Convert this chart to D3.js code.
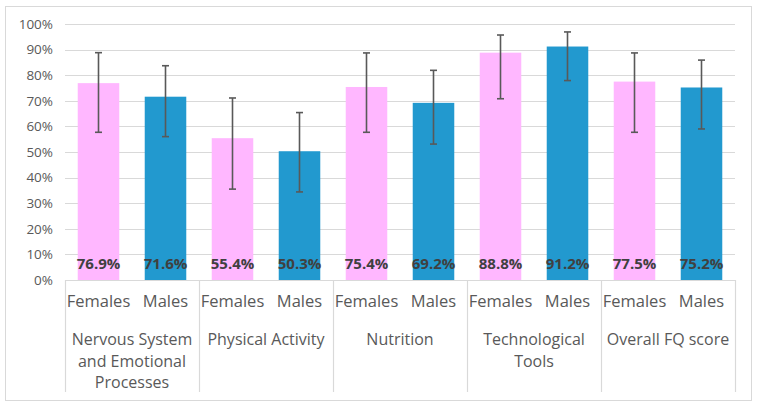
<!DOCTYPE html>
<html>
<head>
<meta charset="utf-8">
<script src="https://cdn.jsdelivr.net/npm/d3@7"></script>
<style>
  body { margin: 0; background: #fff; }
  svg text { font-family: "Open Sans", "Noto Sans", sans-serif; }
</style>
</head>
<body>
<svg id="chart" width="759" height="408"></svg>
<script>
// chart data
const groups = [
    ["Nervous System", "and Emotional", "Processes"],
    ["Physical Activity"],
    ["Nutrition"],
    ["Technological", "Tools"],
    ["Overall FQ score"]
];
const sexes = ["Females", "Males"];
const femaleValues = [76.9, 55.4, 75.4, 88.8, 77.5];
const maleValues = [71.6, 50.3, 69.2, 91.2, 75.2];
// error bar ends
const femaleHigh = [88.8, 71.1, 88.7, 95.7, 88.7];
const femaleLow = [57.7, 35.5, 57.7, 70.8, 57.7];
const maleHigh = [83.7, 65.4, 81.9, 96.9, 85.9];
const maleLow = [56.0, 34.4, 53.1, 77.9, 59.0];
const yTicks = [0, 10, 20, 30, 40, 50, 60, 70, 80, 90, 100];

const colors = { Females: "#FFB7FF", Males: "#2299CF" };

var svg = d3.select("#chart");

var margin = { left: 65, top: 24, right: 24, bottom: 128 };
var width = 759, height = 408;
var plotRight = width - margin.right;
var plotBottom = height - margin.bottom;

// outer frame
svg.append("rect")
    .attr("x", 5.5).attr("y", 6.5)
    .attr("width", 746).attr("height", 394)
    .attr("fill", "#fff")
    .attr("stroke", "#d9d9d9");

// build flat rows from the arrays
var rows = [];
groups.forEach(function(g, i) {
    rows.push({ group: i, sex: "Females", value: femaleValues[i], hi: femaleHigh[i], lo: femaleLow[i] });
    rows.push({ group: i, sex: "Males", value: maleValues[i], hi: maleHigh[i], lo: maleLow[i] });
});

var x0 = d3.scaleBand().domain(d3.range(groups.length)).range([margin.left, plotRight]);
var x1 = d3.scaleBand().domain(sexes).range([0, x0.bandwidth()]).paddingInner(0.38).paddingOuter(0.19);
var y = d3.scaleLinear().domain([0, 100]).range([plotBottom, margin.top]);

// gridlines
svg.append("g")
    .selectAll("line")
    .data(yTicks)
    .enter().append("line")
    .attr("x1", margin.left).attr("x2", plotRight)
    .attr("y1", function(d) { return Math.round(y(d)) + 0.5; })
    .attr("y2", function(d) { return Math.round(y(d)) + 0.5; })
    .attr("stroke", "#d9d9d9")
    .attr("stroke-width", 1.2);

// y axis labels
var yAxis = d3.axisLeft(y).tickValues(yTicks).tickSize(0).tickPadding(12)
    .tickFormat(function(d) { return d + "%"; });
var yAxisGroup = svg.append("g")
    .attr("transform", "translate(" + margin.left + ",0)")
    .call(yAxis);
yAxisGroup.select(".domain").remove();
yAxisGroup.selectAll("text")
    .attr("fill", "#595959")
    .style("font-size", "13.5px");

// bars
var slice = svg.selectAll(".slice")
    .data(groups)
    .enter().append("g")
    .attr("class", "slice")
    .attr("transform", function(d, i) { return "translate(" + x0(i) + ",0)"; });

slice.selectAll("rect")
    .data(function(d, i) { return rows.filter(function(r) { return r.group === i; }); })
    .enter().append("rect")
    .attr("x", function(d) { return x1(d.sex); })
    .attr("width", x1.bandwidth())
    .attr("y", function(d) { return y(d.value); })
    .attr("height", function(d) { return y(0) - y(d.value); })
    .attr("fill", function(d) { return colors[d.sex]; });

// error bars
var err = slice.selectAll(".err")
    .data(function(d, i) { return rows.filter(function(r) { return r.group === i; }); })
    .enter().append("g")
    .attr("class", "err")
    .attr("stroke", "#595959")
    .attr("stroke-width", 1.6);
var cx = function(d) { return x1(d.sex) + x1.bandwidth() / 2; };
err.append("line")
    .attr("x1", cx).attr("x2", cx)
    .attr("y1", function(d) { return y(d.hi); })
    .attr("y2", function(d) { return y(d.lo); });
err.append("line")
    .attr("x1", function(d) { return cx(d) - 3.5; })
    .attr("x2", function(d) { return cx(d) + 3.5; })
    .attr("y1", function(d) { return y(d.hi); })
    .attr("y2", function(d) { return y(d.hi); });
err.append("line")
    .attr("x1", function(d) { return cx(d) - 3.5; })
    .attr("x2", function(d) { return cx(d) + 3.5; })
    .attr("y1", function(d) { return y(d.lo); })
    .attr("y2", function(d) { return y(d.lo); });

// data labels near the base
slice.selectAll(".lbl")
    .data(function(d, i) { return rows.filter(function(r) { return r.group === i; }); })
    .enter().append("text")
    .attr("class", "lbl")
    .attr("x", cx)
    .attr("y", plotBottom - 11)
    .attr("text-anchor", "middle")
    .attr("fill", "#404040")
    .style("font-size", "15px")
    .style("font-weight", "bold")
    .text(function(d) { return d.value.toFixed(1) + "%"; });

// category axis: separators
var axisBottomY = 392;
svg.append("g")
    .selectAll("line")
    .data(d3.range(groups.length + 1))
    .enter().append("line")
    .attr("x1", function(i) { return Math.round(i < groups.length ? x0(i) : plotRight) + 0.5; })
    .attr("x2", function(i) { return Math.round(i < groups.length ? x0(i) : plotRight) + 0.5; })
    .attr("y1", plotBottom)
    .attr("y2", axisBottomY)
    .attr("stroke", "#d9d9d9")
    .attr("stroke-width", 1.2);
svg.append("line")
    .attr("x1", margin.left).attr("x2", plotRight)
    .attr("y1", plotBottom + 0.5).attr("y2", plotBottom + 0.5)
    .attr("stroke", "#d9d9d9")
    .attr("stroke-width", 1.2);

// sex labels
slice.selectAll(".sex")
    .data(sexes)
    .enter().append("text")
    .attr("class", "sex")
    .attr("x", function(d) { return x1(d) + x1.bandwidth() / 2; })
    .attr("y", 307)
    .attr("text-anchor", "middle")
    .attr("fill", "#595959")
    .style("font-size", "16.5px")
    .text(function(d) { return d; });

// group labels (multi-line)
slice.append("text")
    .attr("x", x0.bandwidth() / 2)
    .attr("y", 345)
    .attr("text-anchor", "middle")
    .attr("fill", "#595959")
    .style("font-size", "16px")
    .selectAll("tspan")
    .data(function(d) { return d; })
    .enter().append("tspan")
    .attr("x", x0.bandwidth() / 2)
    .attr("dy", function(d, i) { return i === 0 ? 0 : 21.5; })
    .text(function(d) { return d; });
</script>
</body>
</html>
